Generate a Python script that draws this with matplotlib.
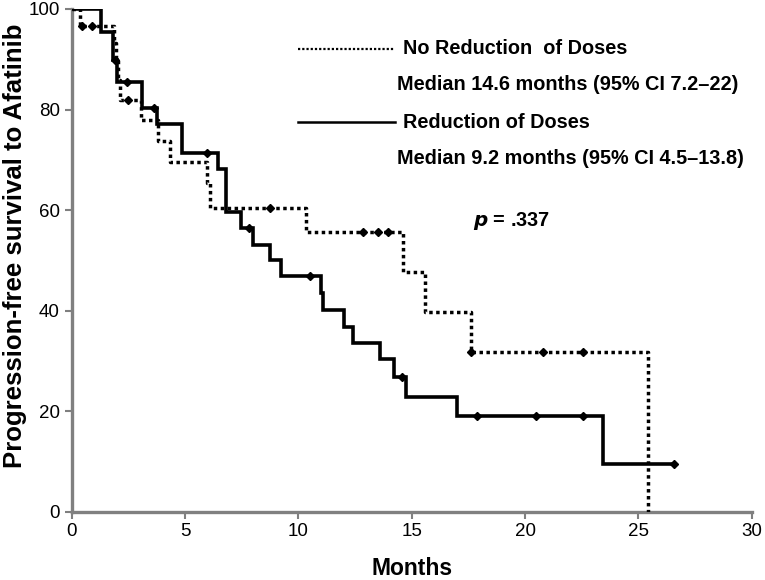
import numpy as np
import matplotlib
matplotlib.use("Agg")
import matplotlib.pyplot as plt
from matplotlib.lines import Line2D

plt.rcParams['font.family'] = ['Liberation Sans', 'DejaVu Sans']

# ---- data ----
# Reduction of doses (solid)
red_times = [0, 1.28, 1.83, 2.0, 3.09, 3.75, 4.85, 6.45, 6.8, 7.46, 7.98, 8.75,
             9.22, 10.98, 11.1, 12.01, 12.39, 13.6, 14.22, 14.75, 16.98, 23.45]
red_surv = [100, 95.5, 89.8, 85.5, 80.2, 77.2, 71.3, 68.2, 59.7, 56.4, 53.0, 50.0,
            46.9, 43.5, 40.1, 36.8, 33.6, 30.3, 26.8, 22.8, 19.0, 9.5]
red_censor = [1.9, 2.42, 3.65, 5.96, 7.84, 10.51, 14.56, 17.9, 20.5, 22.54, 26.57]
red_end = 26.57

# No reduction of doses (dotted)
nored_times = [0, 0.35, 1.87, 1.95, 2.05, 2.13, 3.05, 3.82, 4.34, 5.96, 6.1,
               10.34, 14.63, 15.6, 17.6, 25.43]
nored_surv = [100, 96.7, 93.3, 89.8, 85.9, 81.8, 78.0, 73.8, 69.5, 65.4, 60.5,
              55.7, 47.7, 39.7, 31.8, 0]
nored_censor = [0.44, 0.9, 2.5, 8.75, 12.86, 13.52, 13.97, 17.62, 20.8, 22.57]
nored_end = 25.43

x_ticks = [0, 5, 10, 15, 20, 25, 30]
y_ticks = [0, 20, 40, 60, 80, 100]

label_nored = "No Reduction  of Doses"
median_nored = "Median 14.6 months (95% CI 7.2\u201322)"
label_red = "Reduction of Doses"
median_red = "Median 9.2 months (95% CI 4.5\u201313.8)"


def surv_at(times, surv, t):
    i = np.searchsorted(np.asarray(times), t, side='right') - 1
    return np.asarray(surv)[i]


fig = plt.figure(figsize=(7.65, 5.8), dpi=100)
ax = fig.add_axes([0.0937, 0.118, 0.889, 0.8665])

# solid curve
rt = list(red_times) + [red_end]
rs = list(red_surv) + [red_surv[-1]]
ax.step(rt, rs, where='post', color='black', lw=2.6, solid_joinstyle='miter', zorder=3)
ax.plot(red_censor, [surv_at(red_times, red_surv, t) for t in red_censor],
        ls='none', marker='D', ms=3.8, color='black', zorder=4)

# dotted curve
ax.step(nored_times, nored_surv, where='post', color='black', lw=2.5,
        ls=(0, (1, 1.0)), dash_capstyle='butt', zorder=3)
ax.plot(nored_censor, [surv_at(nored_times, nored_surv, t) for t in nored_censor],
        ls='none', marker='D', ms=3.8, color='black', zorder=4)

ax.set_xlim(0, 30)
ax.set_ylim(0, 100)
ax.set_xticks(x_ticks)
ax.set_yticks(y_ticks)
ax.tick_params(axis='both', colors='#7f7f7f', labelcolor='black', labelsize=13.5,
               length=5, width=1.5, direction='out')
for s in ['top', 'right']:
    ax.spines[s].set_visible(False)
for s in ['left', 'bottom']:
    ax.spines[s].set_color('#808080')
    ax.spines[s].set_linewidth(2.4)
ax.margins(0)

ax.set_xlabel("Months", fontsize=16.5, fontweight='bold', labelpad=12)
ax.set_ylabel("Progression-free survival to Afatinib", fontsize=18.5,
              fontweight='bold')
ax.yaxis.set_label_coords(-0.066, 0.528)

# legend-like annotations (figure pixel coordinates)
H = 580.0
def fy(py):
    return 1 - py / H

fig.add_artist(Line2D([298 / 765, 395 / 765], [fy(49), fy(49)], color='black',
                      lw=1.6, ls=(0, (1, 0.9))))
fig.add_artist(Line2D([298 / 765, 395 / 765], [fy(122), fy(122)], color='black', lw=1.8))
fs = 14.3
fig.text(403 / 765, fy(49), label_nored, fontsize=fs, fontweight='bold', va='center')
fig.text(397 / 765, fy(85), median_nored, fontsize=fs, fontweight='bold', va='center')
fig.text(403 / 765, fy(122), label_red, fontsize=fs, fontweight='bold', va='center')
fig.text(397 / 765, fy(158), median_red, fontsize=fs, fontweight='bold', va='center')
fig.text(473 / 765, fy(221), r"$\mathbfit{p}$ = .337", fontsize=fs,
         fontweight='bold', va='center')

fig.savefig("out.png", dpi=100)
